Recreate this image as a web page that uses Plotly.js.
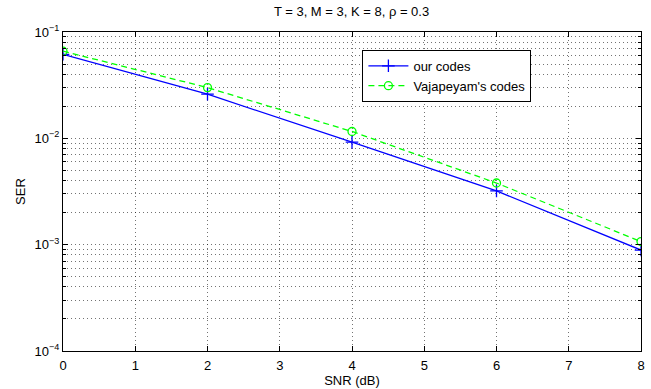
<!DOCTYPE html>
<html><head><meta charset="utf-8">
<script src="https://cdn.plot.ly/plotly-3.0.1.min.js"></script>
<style>html,body{margin:0;padding:0;background:#fff}#c{width:651px;height:389px}</style>
</head><body><div id="c"></div>
<script>
const snr = [0, 2, 4, 6, 8];
const serOur = [0.0617, 0.026, 0.0092, 0.0032, 0.00089];
const serVaj = [0.066, 0.030, 0.0116, 0.0038, 0.00107];
const yTickVals = [1e-4, 1e-3, 1e-2, 1e-1];
const yTickText = ['10<sup>−4</sup>', '10<sup>−3</sup>', '10<sup>−2</sup>', '10<sup>−1</sup>'];
const xTickVals = [0, 1, 2, 3, 4, 5, 6, 7, 8];
const yMinorVals = [2e-4,3e-4,4e-4,5e-4,6e-4,7e-4,8e-4,9e-4,2e-3,3e-3,4e-3,5e-3,6e-3,7e-3,8e-3,9e-3,2e-2,3e-2,4e-2,5e-2,6e-2,7e-2,8e-2,9e-2];

const font = {family: 'Liberation Sans, Arial, sans-serif', size: 13, color: '#000'};
const gridStyle = {showgrid: true, gridcolor: 'rgba(0,0,0,0.55)', griddash: '1px,3px', gridwidth: 1};
const traces = [
  {x: snr, y: serOur, name: 'our codes', mode: 'lines+markers',
   line: {color: 'rgb(0,0,255)', width: 1.3},
   marker: {symbol: 'cross-thin-open', size: 9, line: {color: 'rgb(0,0,255)', width: 1.3}}},
  {x: snr, y: serVaj, name: "Vajapeyam's codes", mode: 'lines+markers',
   line: {color: 'rgb(0,255,0)', width: 1.3, dash: '6px,4px'},
   marker: {symbol: 'circle-open', size: 8, color: 'rgb(0,255,0)', line: {color: 'rgb(0,255,0)', width: 1.3}}}
];
const layout = {
  width: 651, height: 389,
  margin: {l: 63, r: 10, t: 32, b: 38},
  paper_bgcolor: '#fff', plot_bgcolor: '#fff',
  font: font,
  showlegend: true,
  title: {text: 'T = 3, M = 3, K = 8, ρ = 0.3', font: {size: 13, family: font.family}, x: 0.54, xanchor: 'center', y: 0.983, yanchor: 'top'},
  xaxis: Object.assign({
    range: [0, 8], tickvals: xTickVals, ticks: 'inside', ticklen: 5, tickcolor: '#000',
    showline: true, linecolor: '#000', linewidth: 1, mirror: 'ticks', zeroline: false,
    ticklabelstandoff: 2,
    title: {text: 'SNR (dB)', font: {size: 13}, standoff: 1},
    tickfont: {size: 13}
  }, gridStyle),
  yaxis: Object.assign({
    type: 'log', range: [-4, -1], tickvals: yTickVals, ticktext: yTickText,
    ticks: 'inside', ticklen: 5, tickcolor: '#000',
    showline: true, linecolor: '#000', linewidth: 1, mirror: 'ticks', zeroline: false,
    minor: Object.assign({ticks: 'inside', ticklen: 3, tickcolor: '#000', tickvals: yMinorVals}, gridStyle),
    title: {text: 'SER', font: {size: 13}, standoff: 6},
    tickfont: {size: 13}
  }, gridStyle),
  legend: {x: 0.518, y: 0.944, xanchor: 'left', yanchor: 'top', bgcolor: '#fff', bordercolor: '#000', borderwidth: 1,
           font: {size: 13}, tracegroupgap: 0, itemwidth: 40}
};
Plotly.newPlot('c', traces, layout, {staticPlot: true});
</script></body></html>
